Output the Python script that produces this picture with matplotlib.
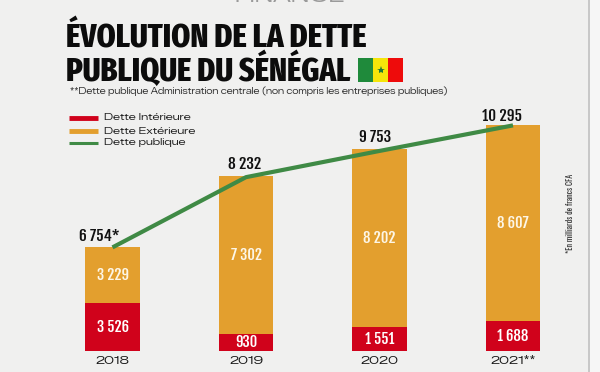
import logging
import matplotlib
matplotlib.use("Agg")
import matplotlib.pyplot as plt
from matplotlib.patches import Rectangle

logging.getLogger("matplotlib.font_manager").setLevel(logging.ERROR)

years = ["2018", "2019", "2020", "2021**"]
interieure_labels = ["3 526", "930", "1 551", "1 688"]
exterieure_labels = ["3 229", "7 302", "8 202", "8 607"]
publique_labels = ["6 754*", "8 232", "9 753", "10 295"]

# heights as drawn in the picture (the bars are not to scale with their labels)
interieure = [2120, 740, 1060, 1310]
exterieure = [2560, 7110, 8010, 8820]
publique = [4640, 7800, 8980, 10130]

RED = "#d0021b"
ORANGE = "#e39f2e"
GREEN = "#3f8a45"
BG = "#f0f0ef"
TITLE = ["Fira Sans Extra Condensed", "Barlow Condensed", "Fjalla One", "Liberation Sans"]
HEAVY = ["Fjalla One", "Anton", "Liberation Sans"]
NARROW = ["Oswald", "Archivo Narrow", "Liberation Sans"]
WIDE = ["Zalando Sans Expanded", "DejaVu Sans"]

fig = plt.figure(figsize=(6, 3.72), dpi=100, facecolor=BG)

# page layer, in pixels
bg = fig.add_axes([0, 0, 1, 1])
bg.set_xlim(0, 600)
bg.set_ylim(372, 0)
bg.axis("off")

bg.axvline(588.5, color="#c4c4c4", lw=1.3)
bg.add_patch(Rectangle((590, 0), 10, 372, color="#f6f6f6", lw=0))

bg.text(290, 6, "FINANCE", color="#9a9a9a", fontsize=15, ha="center", va="bottom", family=WIDE)
bg.text(66, 38.5, "ÉVOLUTION DE LA DETTE", color="#0c0c0c", fontsize=23.7, fontweight=800, va="center", family=TITLE)
bg.text(66, 69.5, "PUBLIQUE DU SÉNÉGAL", color="#0c0c0c", fontsize=23.7, fontweight=800, va="center", family=TITLE)

# flag
bg.add_patch(Rectangle((358, 57.5), 15, 24, color="#1f8a3b", lw=0))
bg.add_patch(Rectangle((373, 57.5), 15, 24, color="#f5e50a", lw=0))
bg.add_patch(Rectangle((388, 57.5), 15, 24, color="#ee0b0b", lw=0))
bg.plot(380.5, 69.5, marker="*", color="#1f7a35", ms=6, mew=0)

bg.text(70, 91, "**Dette publique Administration centrale (non compris les entreprises publiques)",
        color="#333333", fontsize=6.1, va="center", family=WIDE)

# legend
bg.plot([69, 98], [117.5, 117.5], color=RED, lw=3.5, solid_capstyle="butt")
bg.plot([69, 98], [131, 131], color=ORANGE, lw=3.5, solid_capstyle="butt")
bg.plot([69, 98], [142.5, 142.5], color=GREEN, lw=2.2, solid_capstyle="butt")
bg.text(104, 117.5, "Dette Intérieure", color="#222222", fontsize=7.1, va="center", family=WIDE)
bg.text(104, 131, "Dette Extérieure", color="#222222", fontsize=7.1, va="center", family=WIDE)
bg.text(104, 142.5, "Dette publique", color="#222222", fontsize=7.1, va="center", family=WIDE)

bg.text(570, 213, "*En milliards de francs CFA", color="#333333", fontsize=5.8, rotation=90,
        ha="center", va="center", family=NARROW)

# chart layer
ax = fig.add_axes([0, (372 - 350.5) / 372, 1, 250.5 / 372])
ax.patch.set_alpha(0)
ax.set_xlim(-112.5 / 133.5, (600 - 112.5) / 133.5)
ax.set_ylim(0, 250.5 * 45)
ax.axis("off")

x = list(range(len(years)))
ax.bar(x, interieure, width=0.41, color=RED)
ax.bar(x, exterieure, width=0.41, bottom=interieure, color=ORANGE)
ax.plot(x, publique, color=GREEN, lw=3, zorder=4, solid_capstyle="butt")

for i in x:
    ax.text(i, interieure[i] / 2, interieure_labels[i], color="white", fontsize=10.5, ha="center", va="center",
            family=HEAVY)
    ax.text(i, interieure[i] + exterieure[i] / 2, exterieure_labels[i], color="#fdf6e6", fontsize=10.5,
            ha="center", va="center", family=HEAVY)
    ax.annotate(years[i], (i, 0), xytext=(0, -10.5), textcoords="offset pixels", color="#1a1a1a", fontsize=8.3,
                ha="center", va="center", family=WIDE)

label_pos = [(-13, 11), (-1, 13), (-4, 14), (-11, 9)]
for i in x:
    ax.annotate(publique_labels[i], (i, publique[i]), xytext=label_pos[i], textcoords="offset pixels",
                color="#111111", fontsize=11, ha="center", va="center", family=HEAVY)

fig.savefig("out.png", dpi=100, facecolor=BG)
